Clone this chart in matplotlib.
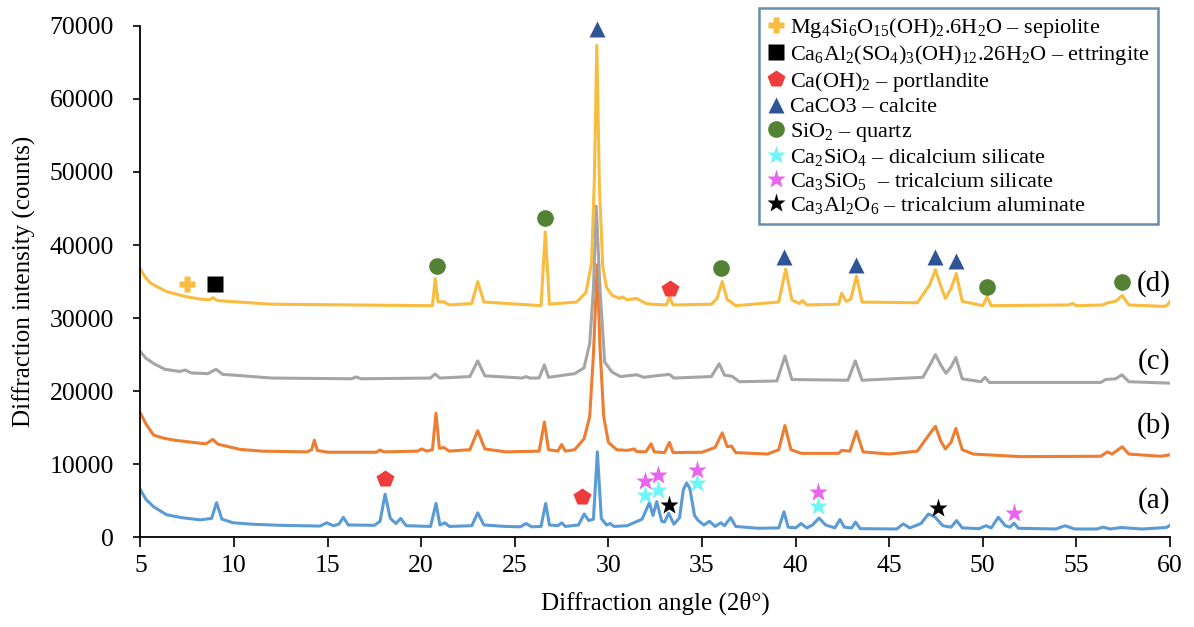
import matplotlib
matplotlib.use("Agg")
import matplotlib.pyplot as plt

plt.rcParams['font.family'] = ['Liberation Serif', 'DejaVu Serif']
plt.rcParams['mathtext.fontset'] = 'custom'
plt.rcParams['mathtext.rm'] = 'Liberation Serif'
plt.rcParams['mathtext.it'] = 'Liberation Serif:italic'
plt.rcParams['mathtext.bf'] = 'Liberation Serif:bold'
plt.rcParams['mathtext.default'] = 'regular'

# (a) blue pattern
a_x = [5.0, 5.3, 5.7, 6.4, 7.2, 8.2, 8.8, 9.07, 9.35, 9.95, 11, 12.5, 14.6, 14.95, 15.3, 15.6, 15.84, 16.1,
       17.5, 17.8, 18.07, 18.35, 18.65, 18.9, 19.2, 20.5, 20.79, 21.0, 21.27, 21.5, 22.7, 23.02, 23.35,
       24.5, 25.3, 25.6, 25.9, 26.4, 26.65, 26.85, 27.3, 27.5, 27.7, 28.4, 28.71, 28.95, 29.2, 29.41,
       29.62, 29.9, 30.09, 30.3, 31.0, 31.8, 32.19, 32.38, 32.58, 32.85, 33.0, 33.22, 33.5, 33.8, 34.0,
       34.18, 34.35, 34.6, 34.8, 35.1, 35.4, 35.7, 36.0, 36.2, 36.53, 36.8, 38, 39.1, 39.38, 39.6, 40.0,
       40.29, 40.6, 40.9, 41.25, 41.6, 42.1, 42.37, 42.6, 43.0, 43.2, 43.45, 45.4, 45.75, 46.1, 46.7,
       47.09, 47.44, 47.86, 48.3, 48.6, 48.9, 49.8, 50.17, 50.45, 50.83, 51.2, 51.45, 51.67, 51.9, 53.9,
       54.39, 54.9, 56.1, 56.42, 56.8, 57.4, 58.5, 59.8, 60.0]
a_y = [6500, 5200, 4200, 3100, 2700, 2400, 2600, 4750, 2500, 2000, 1800, 1650, 1550, 2000, 1600, 1800, 2750, 1700,
       1650, 2200, 5900, 2600, 1900, 2600, 1600, 1500, 4650, 1700, 2000, 1500, 1600, 3350, 1700,
       1500, 1450, 1900, 1450, 1500, 4650, 1700, 1600, 2000, 1500, 1700, 3200, 2300, 2500, 11700,
       2600, 1700, 1900, 1500, 1600, 2500, 4750, 3000, 4900, 2200, 2100, 3300, 1800, 2700, 6500,
       7450, 6700, 3000, 2300, 1700, 2200, 1500, 2000, 1600, 2700, 1500, 1250, 1300, 3500, 1400, 1300,
       1900, 1300, 1700, 2650, 1700, 1300, 2450, 1400, 1300, 2100, 1200, 1150, 1850, 1300, 1900,
       3200, 2800, 1600, 1400, 2300, 1300, 1200, 1600, 1300, 2750, 1600, 1400, 1950, 1250, 1150,
       1600, 1150, 1150, 1400, 1150, 1350, 1150, 1350, 1650]

# (b) orange pattern
b_x = [5.0, 5.3, 5.7, 6.2, 6.8, 7.8, 8.5, 8.86, 9.15, 10.3, 11.5, 13.9, 14.15, 14.29, 14.45, 15, 17.6, 17.8,
       18.0, 19.8, 20.03, 20.3, 20.6, 20.79, 20.97, 21.2, 21.5, 22.6, 23.02, 23.4, 24.5, 26.3, 26.58, 26.8,
       27.3, 27.5, 27.7, 28.2, 28.7, 29.0, 29.2, 29.4, 29.55, 29.75, 30.0, 30.44, 31.0, 31.38, 31.5, 32.0,
       32.28, 32.45, 33.0, 33.26, 33.45, 35.0, 35.7, 36.08, 36.35, 36.57, 36.8, 38.5, 39.1, 39.43, 39.75,
       40.3, 42.3, 42.46, 42.9, 43.25, 43.6, 45.0, 46.5, 47.2, 47.47, 47.75, 48.0, 48.3, 48.56, 48.9,
       49.5, 52, 56.3, 56.66, 56.9, 57.45, 57.8, 59.5, 60.0]
b_y = [17000, 15500, 14000, 13600, 13300, 13000, 12800, 13400, 12750, 12050, 11800, 11700, 12000, 13300, 11900, 11650, 11650, 11950,
       11700, 11800, 12100, 11800, 12000, 17000, 12200, 12300, 11800, 12000, 14600, 12100, 11700, 11800, 15800, 12000,
       11800, 12700, 11800, 12000, 13500, 16500, 25000, 37300, 26000, 16500, 13000, 12000, 11900, 12100, 11750, 11700,
       12800, 11700, 11600, 13000, 11600, 11650, 12300, 14300, 12400, 12500, 11600, 11400, 12000, 15300, 12000,
       11500, 11500, 11900, 11800, 14500, 11700, 11400, 11800, 14300, 15200, 13200, 12100, 13000, 14900, 12000,
       11400, 11050, 11100, 11700, 11400, 12400, 11400, 11100, 11300]

# (c) grey pattern
c_x = [5.0, 5.3, 5.7, 6.3, 7.1, 7.4, 7.7, 8.6, 9.04, 9.4, 10.0, 12.0, 16.3, 16.5, 16.8, 20.5, 20.74, 21.0,
       22.6, 23.02, 23.4, 25.4, 25.6, 25.8, 26.3, 26.58, 26.8, 28.2, 28.7, 29.0, 29.2, 29.35, 29.55, 29.8,
       30.2, 30.65, 31.5, 31.9, 32.5, 33.26, 33.5, 35.5, 35.92, 36.2, 36.6, 37.0, 39.0, 39.43, 39.8, 42.8,
       43.19, 43.55, 46.8, 47.2, 47.47, 47.75, 48.03, 48.3, 48.56, 48.9, 49.9, 50.12, 50.35, 56.3, 56.56,
       57.1, 57.43, 57.8, 60.0]
c_y = [25400, 24500, 23800, 23000, 22700, 22900, 22500, 22400, 23000, 22300, 22200, 21800, 21700, 21950, 21700, 21800, 22350, 21800,
       22000, 24150, 22100, 21800, 22000, 21800, 21800, 23600, 21900, 22400, 23200, 26500, 34000, 45300, 34000, 24000,
       22600, 22000, 22250, 21900, 22100, 22300, 21800, 22000, 23750, 22200, 22050, 21300, 21400, 24800, 21600, 21500,
       24150, 21500, 21900, 23700, 25000, 23600, 22450, 23300, 24600, 21700, 21300, 21900, 21200, 21200, 21600,
       21700, 22250, 21300, 21100]

# (d) yellow pattern
d_x = [5.0, 5.2, 5.53, 6.42, 7.5, 8.2, 8.7, 8.88, 9.1, 9.95, 12, 20.6, 20.75, 20.9, 21.2, 21.5, 22.7, 23.02,
       23.35, 26.4, 26.63, 26.85, 28.3, 28.8, 29.1, 29.25, 29.38, 29.52, 29.7, 29.9, 30.2, 30.6, 30.76, 31.0,
       31.5, 32.0, 32.3, 33.1, 33.26, 33.45, 35.5, 35.8, 36.08, 36.35, 36.5, 36.8, 39.1, 39.47, 39.8, 40.2,
       40.37, 40.6, 42.3, 42.46, 42.7, 42.95, 43.25, 43.55, 46.5, 47.15, 47.47, 47.7, 48.0, 48.3, 48.58,
       48.9, 50.0, 50.23, 50.45, 54.6, 54.8, 55.0, 56.4, 56.66, 57.1, 57.45, 57.8, 59.7, 59.9, 60.0]
d_y = [36700, 35800, 34800, 33600, 32900, 32600, 32500, 32800, 32400, 32250, 31900, 31700, 35400, 32200, 32250, 31800, 32000, 35000,
       32200, 31700, 41800, 31900, 32200, 33500, 37500, 49000, 67300, 48000, 37000, 34200, 33100, 32700, 32900, 32500,
       32700, 32000, 31900, 31800, 32900, 31800, 31900, 32700, 35000, 32500, 32300, 31700, 32200, 36700, 32500, 32000,
       32400, 31800, 31900, 33400, 32300, 32600, 35750, 32200, 32100, 34500, 36600, 34800, 32700, 34000, 36100,
       32300, 31700, 32900, 31700, 31800, 32000, 31700, 31800, 32100, 32300, 33100, 31800, 31600, 31900, 32300]

# phase markers (x = 2theta, y = counts)
sep_x, sep_y = [7.5], [34700]
ett_x, ett_y = [9.0], [34700]
por_x = [18.05, 28.57, 33.3]
por_y = [7950, 5500, 34000]
cal_x = [29.4, 39.4, 43.2, 47.45, 48.55]
cal_y = [69500, 38300, 37200, 38400, 37800]
qtz_x = [20.85, 26.63, 36.02, 50.25, 57.43]
qtz_y = [37100, 43700, 36800, 34300, 34900]
c2s_x = [31.97, 32.67, 34.72, 41.22]
c2s_y = [5850, 6450, 7400, 4250]
c3s_x = [31.97, 32.67, 34.72, 41.22, 51.67]
c3s_y = [7650, 8500, 9200, 6150, 3350]
c3a_x = [33.24, 47.62]
c3a_y = [4450, 4000]

series_labels = ['(a)', '(b)', '(c)', '(d)']
label_y = [5100, 15300, 24100, 34700]

fig = plt.figure(figsize=(11.94, 6.27), dpi=100)
ax = fig.add_axes([0.1176, 0.1429, 0.8623, 0.8161])

ax.plot(a_x, a_y, color='#5B9BD5', lw=2.2)
ax.plot(b_x, b_y, color='#ED7D31', lw=2.2)
ax.plot(c_x, c_y, color='#A5A5A5', lw=2.2)
ax.plot(d_x, d_y, color='#F9BC3F', lw=2.2)

ax.plot(sep_x, sep_y, ls='none', marker='P', ms=12, color='#F9BC3F', mec='none', clip_on=False,
        label=r'Mg$_4$Si$_6$O$_{15}$(OH)$_2$.6H$_2$O – sepiolite')
ax.plot(ett_x, ett_y, ls='none', marker='s', ms=11, color='black', mec='none', clip_on=False,
        label=r'Ca$_6$Al$_2$(SO$_4$)$_3$(OH)$_{12}$.26H$_2$O – ettringite')
ax.plot(por_x, por_y, ls='none', marker='p', ms=13, color='#EE3B3B', mec='none', clip_on=False,
        label=r'Ca(OH)$_2$ – portlandite')
ax.plot(cal_x, cal_y, ls='none', marker='^', ms=12, color='#2F5597', mec='none', clip_on=False,
        label='CaCO3 – calcite')
ax.plot(qtz_x, qtz_y, ls='none', marker='o', ms=12, color='#548235', mec='none', clip_on=False,
        label=r'SiO$_2$ – quartz')
ax.plot(c2s_x, c2s_y, ls='none', marker='*', ms=14, color='#6FF7F7', mec='none', clip_on=False,
        label=r'Ca$_2$SiO$_4$ – dicalcium silicate')
ax.plot(c3s_x, c3s_y, ls='none', marker='*', ms=14, color='#E866EE', mec='none', clip_on=False,
        label=r'Ca$_3$SiO$_5$  – tricalcium silicate')
ax.plot(c3a_x, c3a_y, ls='none', marker='*', ms=14, color='black', mec='none', clip_on=False,
        label=r'Ca$_3$Al$_2$O$_6$ – tricalcium aluminate')

for lab, yy in zip(series_labels, label_y):
    ax.text(59.15, yy, lab, fontsize=21, ha='center', va='center')

ax.set_xlim(5, 60)
ax.set_ylim(0, 70000)
ax.set_xticks(range(5, 61, 5))
ax.set_yticks(range(0, 70001, 10000))
ax.tick_params(axis='y', direction='out', length=5, width=1.2, labelsize=18.5, pad=14)
ax.tick_params(axis='x', direction='out', length=7, width=1.2, labelsize=18.5, pad=6)
ax.spines['top'].set_visible(False)
ax.spines['right'].set_visible(False)
ax.spines['left'].set_linewidth(1.3)
ax.spines['bottom'].set_linewidth(1.3)

ax.set_xlabel('Diffraction angle (2θ°)', fontsize=18, labelpad=10)
ax.set_ylabel('Diffraction intensity (counts)', fontsize=18, labelpad=10)

leg = ax.legend(loc='upper right', bbox_to_anchor=(0.988, 1.035), borderaxespad=0, fontsize=16,
                frameon=True, fancybox=False, handlelength=0.8, handletextpad=0.25, labelspacing=0.14,
                borderpad=0.35, edgecolor='#41719C')
leg.get_frame().set_linewidth(1.8)
leg.set_zorder(5)

fig.savefig('out.png', dpi=100)
